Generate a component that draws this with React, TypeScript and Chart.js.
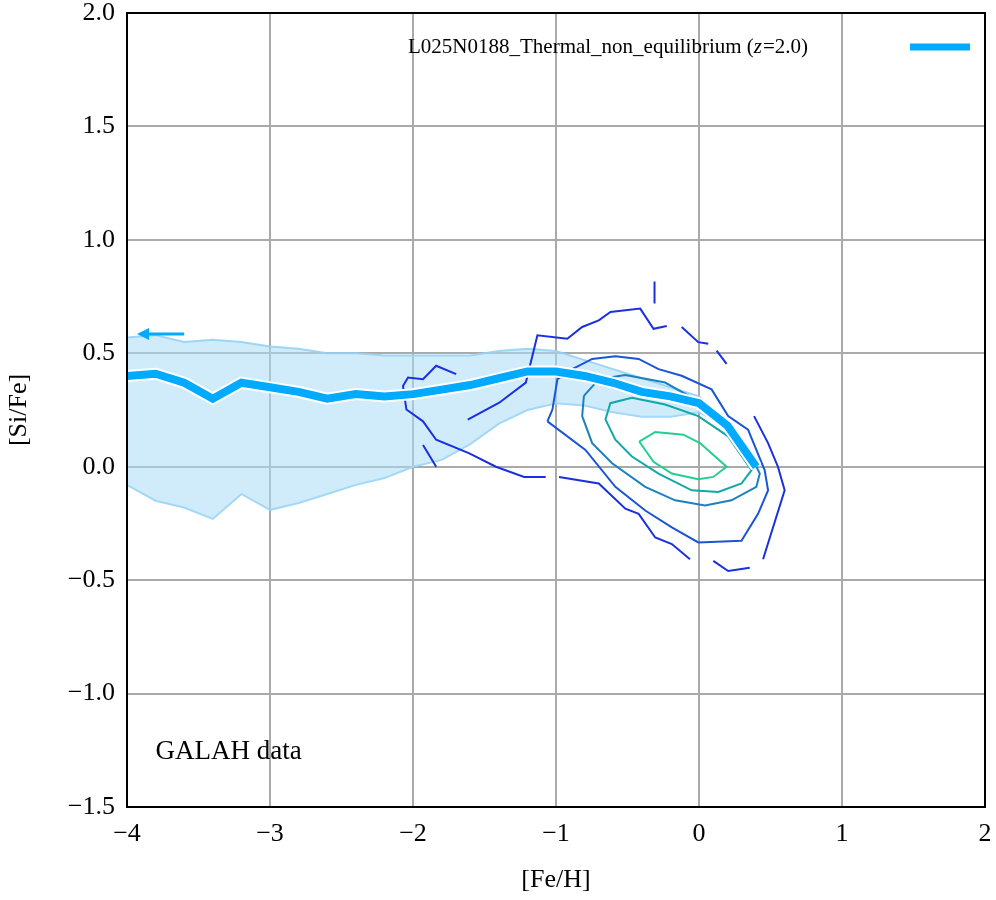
import React, { useEffect, useRef } from "react";
import { Chart, registerables } from "chart.js";

Chart.register(...registerables);

const medianX = [-4, -3.8, -3.6, -3.4, -3.2, -3.0, -2.8, -2.6, -2.4, -2.2, -2.0, -1.8, -1.6, -1.4, -1.2, -1.0, -0.8, -0.6, -0.4, -0.2, 0, 0.2, 0.4];
const medianY = [0.40, 0.41, 0.37, 0.30, 0.37, 0.35, 0.33, 0.30, 0.32, 0.31, 0.32, 0.34, 0.36, 0.39, 0.42, 0.42, 0.40, 0.37, 0.33, 0.31, 0.28, 0.18, 0.0];
const bandX = [-4, -3.8, -3.6, -3.4, -3.2, -3.0, -2.8, -2.6, -2.4, -2.2, -2.0, -1.8, -1.6, -1.4, -1.2, -1.0, -0.8, -0.6, -0.4, -0.2, 0, 0.2];
const bandUpper = [0.57, 0.58, 0.55, 0.56, 0.55, 0.53, 0.52, 0.50, 0.50, 0.49, 0.49, 0.49, 0.49, 0.51, 0.52, 0.51, 0.47, 0.43, 0.39, 0.35, 0.31, 0.2];
const bandLower = [-0.08, -0.15, -0.18, -0.23, -0.12, -0.19, -0.16, -0.12, -0.08, -0.05, 0.0, 0.03, 0.10, 0.19, 0.25, 0.28, 0.27, 0.24, 0.22, 0.22, 0.24, 0.18];

type P = [number, number] | null;
const contour1: P[] = [[-0.418, 0.111], [-0.306, 0.153], [-0.109, 0.141], [0.007, 0.104], [0.193, 0], [0.1, -0.045], [-0.005, -0.055], [-0.19, -0.03], [-0.318, 0.022], [-0.418, 0.111]];
const contour2: P[] = [[-0.469, 0.304], [-0.62, 0.28], [-0.654, 0.208], [-0.585, 0.119], [-0.469, 0.045], [-0.283, -0.03], [-0.051, -0.104], [0.135, -0.111], [0.297, -0.074], [0.367, -0.015], [0.204, 0.134], [-0.005, 0.223], [-0.237, 0.274], [-0.469, 0.304]];
const contour3: P[] = [[-0.805, 0.312], [-0.817, 0.223], [-0.747, 0.104], [-0.608, 0.015], [-0.376, -0.089], [-0.167, -0.148], [0.042, -0.171], [0.227, -0.148], [0.401, -0.089], [0.425, -0.03], [0.367, 0.045], [0.227, 0.178], [-0.028, 0.297], [-0.237, 0.371], [-0.515, 0.404], [-0.7, 0.386], [-0.805, 0.312]];
const contour4: P[] = [[-1.06, 0.2], [-1.025, 0.252], [-0.99, 0.386], [-0.886, 0.43], [-0.747, 0.475], [-0.585, 0.487], [-0.422, 0.475], [-0.283, 0.43], [-0.121, 0.401], [0.088, 0.341], [0.204, 0.223], [0.343, 0.163], [0.459, -0.015], [0.483, -0.104], [0.413, -0.208], [0.297, -0.326], [-0.005, -0.334], [-0.19, -0.267], [-0.376, -0.193], [-0.585, -0.089], [-0.794, 0.074], [-1.06, 0.2]];
const contour5: P[] = [
  [-1.698, 0.408], [-1.838, 0.445], [-1.93, 0.386], [-2.035, 0.393], [-2.07, 0.356], [-2.046, 0.252], [-1.93, 0.2], [-1.838, 0.119], [-1.606, 0.059], [-1.42, 0], [-1.223, -0.045], [-1.072, -0.045], null,
  [-0.979, -0.045], [-0.701, -0.074], [-0.515, -0.185], [-0.422, -0.208], [-0.306, -0.312], [-0.19, -0.341], [-0.063, -0.408], null,
  [0.1, -0.415], [0.204, -0.46], [0.355, -0.445], null,
  [0.448, -0.408], [0.599, -0.104], [0.552, 0], [0.483, 0.104], [0.385, 0.223], null,
  [0.193, 0.453], [0.123, 0.512], null,
  [0.065, 0.542], [-0.005, 0.549], [-0.121, 0.616], null,
  [-0.225, 0.62], [-0.318, 0.608], [-0.411, 0.697], [-0.619, 0.682], [-0.701, 0.645], [-0.817, 0.616], [-0.921, 0.564], [-1.13, 0.579], [-1.211, 0.371], [-1.397, 0.282], [-1.617, 0.208], null,
  [-1.93, 0.096], [-1.838, 0], null,
  [-0.311, 0.816], [-0.311, 0.72],
];
const contours = [contour5, contour4, contour3, contour2, contour1];
const contourColors = ["#1a30e0", "#1a55d8", "#1a80c0", "#12a8a8", "#20d090"];

const xTicks = [-4, -3, -2, -1, 0, 1, 2];
const yTicks = [-1.5, -1.0, -0.5, 0.0, 0.5, 1.0, 1.5, 2.0];
const legendLabel = "L025N0188_Thermal_non_equilibrium (";

const toPts = (arr: P[]) => arr.map((p) => (p ? { x: p[0], y: p[1] } : { x: NaN, y: NaN }));
const minus = (s: string) => s.replace("-", "\u2212");

const extras = {
  id: "extras",
  afterDraw(chart: any) {
    const { ctx, chartArea: a, scales } = chart;
    const xs = scales.x, ys = scales.y;
    ctx.save();
    ctx.strokeStyle = "#000";
    ctx.lineWidth = 2;
    ctx.strokeRect(a.left, a.top, a.right - a.left, a.bottom - a.top);
    // arrow
    const ay = ys.getPixelForValue(0.585);
    const x1 = xs.getPixelForValue(-3.6), x0 = xs.getPixelForValue(-3.93);
    ctx.strokeStyle = "#00aaff";
    ctx.fillStyle = "#00aaff";
    ctx.lineWidth = 3;
    ctx.beginPath(); ctx.moveTo(x1, ay); ctx.lineTo(x0 + 8, ay); ctx.stroke();
    ctx.beginPath(); ctx.moveTo(x0, ay); ctx.lineTo(x0 + 12, ay - 6); ctx.lineTo(x0 + 12, ay + 6); ctx.closePath(); ctx.fill();
    // texts
    ctx.fillStyle = "#000";
    ctx.font = "27px 'Liberation Serif'";
    ctx.textBaseline = "middle";
    ctx.fillText("GALAH data", xs.getPixelForValue(-3.8), ys.getPixelForValue(-1.255));
    ctx.font = "21px 'Liberation Serif'";
    let lx = 408;
    const ly = 47;
    ctx.fillText(legendLabel, lx, ly);
    lx += ctx.measureText(legendLabel).width;
    ctx.font = "italic 21px 'Liberation Serif'";
    ctx.fillText("z", lx, ly);
    lx += ctx.measureText("z").width + 1;
    ctx.font = "21px 'Liberation Serif'";
    ctx.fillText("=2.0)", lx, ly);
    ctx.strokeStyle = "#00aaff";
    ctx.lineWidth = 7;
    ctx.beginPath(); ctx.moveTo(910, ly); ctx.lineTo(970, ly); ctx.stroke();
    ctx.restore();
  },
};

export default function App() {
  const ref = useRef<HTMLCanvasElement | null>(null);

  useEffect(() => {
    if (!ref.current) return;
    const datasets: any[] = [
      {
        data: bandX.map((x, i) => ({ x, y: bandLower[i] })), order: 20,
        borderColor: "rgba(150,210,245,0.9)", borderWidth: 2, pointRadius: 0, showLine: true, fill: false,
      },
      {
        data: bandX.map((x, i) => ({ x, y: bandUpper[i] })), order: 19,
        borderColor: "rgba(150,210,245,0.9)", borderWidth: 2, pointRadius: 0, showLine: true,
        fill: "-1", backgroundColor: "rgba(170,220,248,0.55)",
      },
      ...contours.map((c, i) => ({
        data: toPts(c), order: 10 - i, borderColor: contourColors[i], borderWidth: 2, pointRadius: 0, showLine: true, spanGaps: false, fill: false,
      })),
      {
        data: medianX.map((x, i) => ({ x, y: medianY[i] })), order: 2,
        borderColor: "#ffffff", borderWidth: 12, pointRadius: 0, showLine: true, fill: false,
      },
      {
        data: medianX.map((x, i) => ({ x, y: medianY[i] })), order: 1,
        borderColor: "#00aaff", borderWidth: 8, pointRadius: 0, showLine: true, fill: false,
      },
    ];
    const font = { family: "'Liberation Serif', serif", size: 26 };
    const chart = new Chart(ref.current, {
      type: "scatter",
      data: { datasets },
      options: {
        animation: false,
        responsive: false,
        layout: { padding: { top: 13, right: 11, left: 0, bottom: 0 } },
        plugins: { legend: { display: false }, tooltip: { enabled: false } },
        scales: {
          x: {
            type: "linear", min: -4, max: 2,
            afterBuildTicks: (s: any) => { s.ticks = xTicks.map((v) => ({ value: v })); },
            afterFit: (s: any) => { s.height = 93; s.paddingLeft = 0; s.paddingRight = 0; },
            ticks: { font, color: "#000", callback: (v: any) => minus(String(v)), padding: 12 },
            grid: { color: "#aaaaaa", lineWidth: 2, drawTicks: false },
            border: { color: "#000", width: 2 },
            title: { display: true, text: "[Fe/H]", font, color: "#000", padding: { top: 8 } },
          },
          y: {
            type: "linear", min: -1.5, max: 2.0,
            afterBuildTicks: (s: any) => { s.ticks = yTicks.map((v) => ({ value: v })); },
            afterFit: (s: any) => { s.width = 127; s.paddingTop = 0; s.paddingBottom = 0; },
            ticks: { font, color: "#000", callback: (v: any) => minus(Number(v).toFixed(1)), padding: 12 },
            grid: { color: "#aaaaaa", lineWidth: 2, drawTicks: false },
            border: { color: "#000", width: 2 },
            title: { display: true, text: "[Si/Fe]", font, color: "#000", padding: { bottom: 6 } },
          },
        },
      },
      plugins: [extras],
    });
    return () => chart.destroy();
  }, []);

  return (
    <div style={{ position: "absolute", left: 0, top: 0, width: 996, height: 900, background: "#fff" }}>
      <canvas ref={ref} width={996} height={900} style={{ display: "block" }} />
    </div>
  );
}
